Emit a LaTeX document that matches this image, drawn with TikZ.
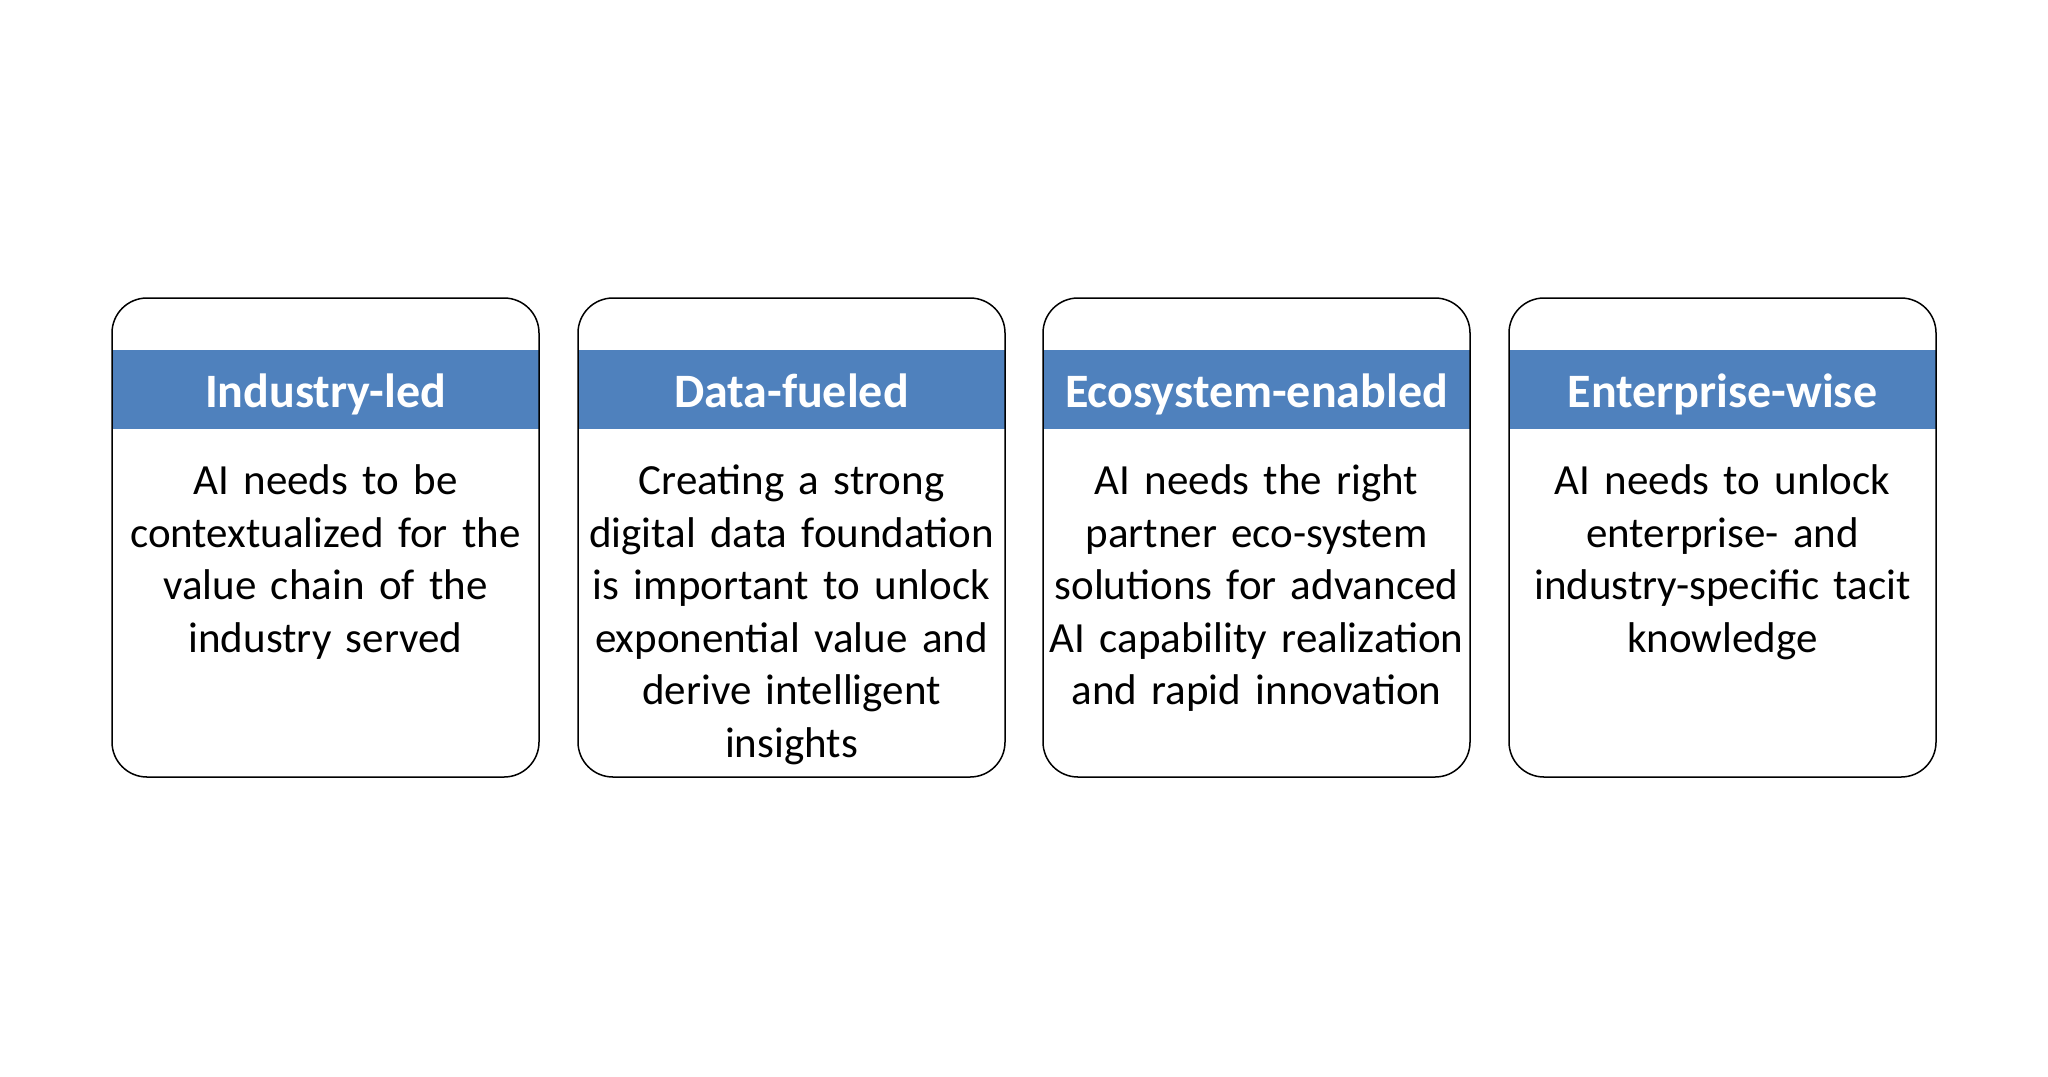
\documentclass[tikz,border=0pt]{standalone}
\usepackage{fontspec}
\setmainfont{Carlito}
\definecolor{bandblue}{HTML}{4F81BD}
\begin{document}
\begin{tikzpicture}[x=0.5pt,y=-0.5pt,
  card/.style={draw=black,line width=0.75pt,rounded corners=17.5pt,minimum width=213.5pt,minimum height=239.5pt,inner sep=0pt},
  band/.style={fill=bandblue,draw=none,minimum width=213.5pt,minimum height=39.5pt,inner sep=0pt},
  title/.style={text=white,font=\bfseries\fontsize{24pt}{28pt}\selectfont,anchor=base,inner sep=0pt},
  body/.style={text=black,font=\fontsize{21.5pt}{26.3pt}\selectfont,anchor=north,inner sep=0pt,align=center,text width=212pt}
]
\useasboundingbox (0,0) rectangle (2048,1076);
\fill[white] (0,0) rectangle (2048,1076);
% box centres x: 325.5, 791.5, 1256.5, 1722.5
\foreach \i/\cx/\ttl/\txt in {
  1/325.5/Industry-led/{AI needs to be\\contextualized for the\\value chain of the\\industry served},
  2/791.5/Data-fueled/{Creating a strong\\digital data foundation\\is important to unlock\\exponential value and\\derive intelligent\\insights},
  3/1256.5/Ecosystem-enabled/{AI needs the right\\partner eco-system\\solutions for advanced\\AI capability realization\\and rapid innovation},
  4/1722.5/Enterprise-wise/{AI needs to unlock\\enterprise- and\\industry-specific tacit\\knowledge}}
{
  \node[band] (band\i) at (\cx,389.5) {};
  \node[card] (card\i) at (\cx,537.5) {};
  \node[title] (title\i) at (\cx,407) {\ttl};
  \node[body] (body\i) at (\cx,462) {\rule{0pt}{16pt}\txt};
}
\end{tikzpicture}
\end{document}
